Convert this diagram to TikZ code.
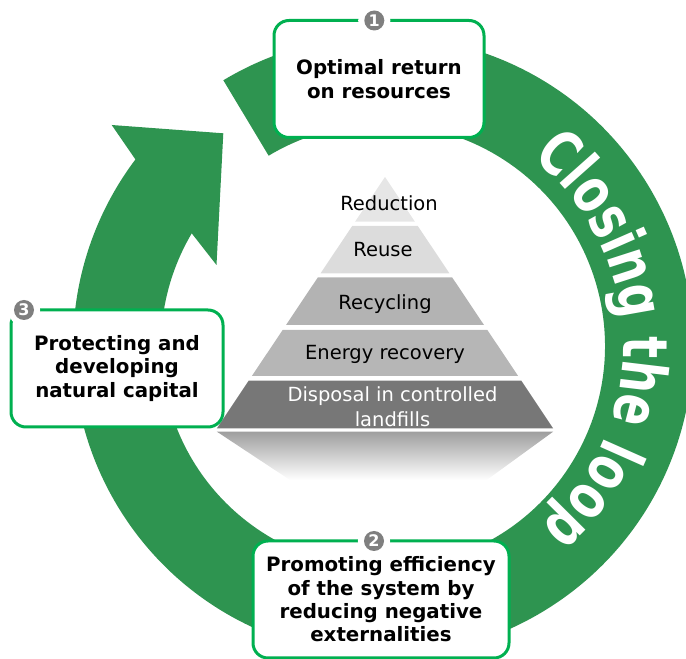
\documentclass[tikz,border=0pt]{standalone}
\usepackage{fontspec}
\setmainfont{DejaVu Sans}
\usetikzlibrary{decorations.text}

\definecolor{ringgreen}{HTML}{2E9450}
\definecolor{boxgreen}{HTML}{00B050}
\definecolor{numgray}{HTML}{7F7F7F}
\definecolor{layerA}{HTML}{E6E6E6}
\definecolor{layerB}{HTML}{DCDCDC}
\definecolor{layerC}{HTML}{B3B3B3}
\definecolor{layerD}{HTML}{B6B6B6}
\definecolor{layerE}{HTML}{777777}

\begin{document}
\begin{tikzpicture}[x=1pt, y=1pt,
    goalbox/.style={draw=boxgreen, line width=3pt, fill=white, rounded corners=15pt,
        align=center, inner sep=0pt, minimum height=117pt,
        font=\fontsize{19.8}{23.4}\selectfont\bfseries},
    stepnum/.style={circle, fill=numgray, preaction={draw=white, line width=12pt},
        minimum size=20pt, inner sep=0pt, text=white,
        font=\fontsize{16}{16}\selectfont\bfseries},
    layertext/.style={anchor=base, inner sep=0pt, font=\fontsize{19.5}{25}\selectfont}]
    \useasboundingbox (0,0) rectangle (686,659);
    \clip (0,0) rectangle (686,659);

    % Ring arrow
    \begin{scope}[shift={(383,313)}]
        \fill[ringgreen] (121:310) arc[start angle=121, end angle=-217, radius=310]
            -- (-271.3,221) -- (-159.7,212.7) -- (-166.5,81)
            -- (-210.5:222) arc[start angle=-210.5, end angle=121, radius=222] -- cycle;
        \path[decorate, decoration={text effects along path, text={Closing the loop},
            text effects/.cd, text along path,
            characters={text=white, font=\fontsize{46}{46}\selectfont\bfseries, yscale=1.35}}]
            (51.5:240) arc[start angle=51.5, end angle=-70, radius=240];
    \end{scope}

    % Pyramid
    \fill[layerA] (385,482) -- (414.9,437.3) -- (355.1,437.3) -- cycle;
    \fill[layerB] (352.2,433) -- (417.8,433) -- (449.4,385.7) -- (320.6,385.7) -- cycle;
    \fill[layerC] (317.9,381.7) -- (452.1,381.7) -- (484,334) -- (286,334) -- cycle;
    \fill[layerD] (282.6,329) -- (487.4,329) -- (518.1,283) -- (251.9,283) -- cycle;
    \fill[layerE] (248.7,278.3) -- (521.3,278.3) -- (553.1,230.7) -- (216.9,230.7) -- cycle;
    \shade[top color=black!38, bottom color=white] (216.9,227.3) -- (553.1,227.3)
        -- (486.7,179) -- (290,179) -- cycle;

    \node[layertext] (reduction) at (389,448.3) {Reduction};
    \node[layertext] (reuse) at (383,402.3) {Reuse};
    \node[layertext] (recycling) at (385,349) {Recycling};
    \node[layertext] (energy) at (385,299) {Energy recovery};
    \node[layertext, anchor=center, align=center, text=white] (disposal) at (392.5,252.2)
        {Disposal in controlled\\landfills};

    % Goals
    \node[goalbox, minimum width=210pt] (optimal) at (379,580) {Optimal return\\on resources};
    \node[goalbox, minimum width=256pt] (efficiency) at (381,59.5)
        {Promoting efficiency\\of the system by\\reducing negative\\externalities};
    \node[goalbox, minimum width=212pt] (capital) at (117,290.5)
        {Protecting and\\developing\\natural capital};

    % Numbers
    \node[stepnum] (num1) at (374.3,638.5) {1};
    \node[stepnum] (num2) at (374,118) {2};
    \node[stepnum] (num3) at (24,349) {3};
\end{tikzpicture}
\end{document}
